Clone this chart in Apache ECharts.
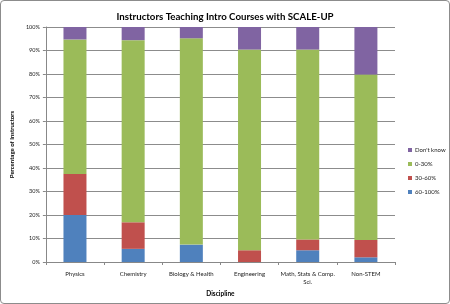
<!DOCTYPE html>
<html>
<head>
<meta charset="utf-8">
<script src="https://cdn.jsdelivr.net/npm/echarts@6/dist/echarts.min.js"></script>
<style>
  html, body { margin: 0; padding: 0; background: #fff; }
  #chart { width: 448px; height: 302px; border: 1px solid #8c8c8c; border-radius: 4px; }
</style>
</head>
<body>
<div id="chart"></div>
<script>
const disciplines = ["Physics", "Chemistry", "Biology & Health", "Engineering", "Math, Stats & Comp. Sci.", "Non-STEM"];
const high60to100 = [20.0, 5.6, 7.4, 0, 5.0, 2.0];
const mid30to60 = [17.5, 11.3, 0, 5.0, 4.6, 7.4];
const low0to30 = [57.2, 77.5, 87.8, 85.4, 80.8, 70.4];
const dontKnow = [5.3, 5.6, 4.8, 9.6, 9.6, 20.2];
const yTicks = [0, 10, 20, 30, 40, 50, 60, 70, 80, 90, 100];

const font = "Lato, 'Open Sans', sans-serif";
const chart = echarts.init(document.getElementById("chart"), null, { renderer: "canvas" });

function bar(name, data, color) {
  return {
    name: name,
    type: "bar",
    stack: "total",
    data: data,
    barWidth: 23,
    itemStyle: { color: color },
    emphasis: { disabled: true }
  };
}

chart.setOption({
  animation: false,
  textStyle: { fontFamily: font },
  title: {
    text: "Instructors Teaching Intro Courses with SCALE-UP",
    left: "center",
    top: 6,
    textStyle: { fontSize: 9.7, fontWeight: "bold", color: "#000", fontFamily: font }
  },
  grid: { left: 42, right: 54, top: 26, bottom: 41 },
  legend: {
    orient: "vertical",
    left: 402,
    top: 141,
    itemWidth: 4,
    itemHeight: 4,
    itemGap: 8,
    icon: "rect",
    data: ["Don't know", "0-30%", "30-60%", "60-100%"],
    textStyle: { fontSize: 6, color: "#222", padding: [0, 0, 0, -2] }
  },
  xAxis: {
    type: "category",
    data: disciplines,
    name: "Discipline",
    nameLocation: "middle",
    nameGap: 28,
    nameTextStyle: { fontSize: 6.5, fontWeight: "bold", color: "#000" },
    axisLine: { lineStyle: { color: "#888" } },
    axisTick: { show: true, length: 3, lineStyle: { color: "#888" } },
    axisLabel: {
      fontSize: 6,
      color: "#222",
      margin: 8,
      interval: 0,
      lineHeight: 8,
      formatter: (v) => v.replace("Comp. Sci.", "Comp.\nSci.")
    }
  },
  yAxis: {
    type: "value",
    min: 0,
    max: 100,
    interval: 10,
    name: "Percentage of Instructors",
    nameLocation: "middle",
    nameGap: 26,
    nameTextStyle: { fontSize: 6, fontWeight: "bold", color: "#000" },
    axisLine: { show: true, lineStyle: { color: "#888" } },
    axisTick: { show: true, length: 3, lineStyle: { color: "#888" } },
    splitLine: { lineStyle: { color: "#8c8c8c", width: 1 } },
    axisLabel: {
      fontSize: 5.5,
      color: "#222",
      margin: 6,
      customValues: yTicks,
      formatter: (v) => v + "%"
    }
  },
  series: [
    bar("60-100%", high60to100, "#4F81BD"),
    bar("30-60%", mid30to60, "#C0504D"),
    bar("0-30%", low0to30, "#9BBB59"),
    bar("Don't know", dontKnow, "#8064A2")
  ]
});
</script>
</body>
</html>
